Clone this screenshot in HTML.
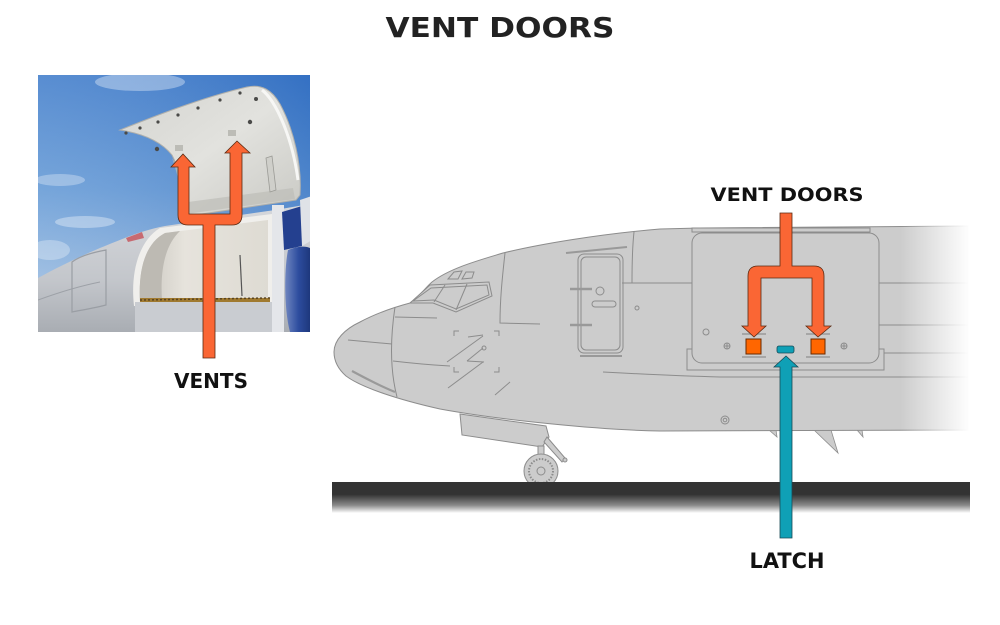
<!DOCTYPE html>
<html>
<head>
<meta charset="utf-8">
<style>
  html,body{margin:0;padding:0;background:#fff;}
  body{width:1000px;height:625px;overflow:hidden;}
  svg{display:block;}
  text{font-family:"DejaVu Sans","Liberation Sans",sans-serif;font-weight:bold;}
</style>
</head>
<body>
<svg width="1000" height="625" viewBox="0 0 1000 625" xmlns="http://www.w3.org/2000/svg">
  <defs>
    <clipPath id="pc"><rect x="38" y="75" width="272" height="257"/></clipPath>
    <linearGradient id="sky" x1="0" y1="0" x2="0" y2="1">
      <stop offset="0" stop-color="#3b79c9"/>
      <stop offset="0.45" stop-color="#5f96d4"/>
      <stop offset="1" stop-color="#adc7e3"/>
    </linearGradient>
    <linearGradient id="skyR" x1="0" y1="0" x2="1" y2="0">
      <stop offset="0" stop-color="#ffffff" stop-opacity="0.15"/>
      <stop offset="1" stop-color="#1f56b0" stop-opacity="0.25"/>
    </linearGradient>
    <linearGradient id="doorG" x1="0" y1="0" x2="1" y2="1">
      <stop offset="0" stop-color="#d4d4d0"/>
      <stop offset="0.5" stop-color="#e2e2de"/>
      <stop offset="1" stop-color="#c9c9c4"/>
    </linearGradient>
    <linearGradient id="fusG" x1="0" y1="0" x2="0" y2="1">
      <stop offset="0" stop-color="#d6d8dc"/>
      <stop offset="0.6" stop-color="#c3c6cb"/>
      <stop offset="1" stop-color="#a9adb3"/>
    </linearGradient>
    <linearGradient id="holdG" x1="0" y1="0" x2="1" y2="0">
      <stop offset="0" stop-color="#c9c6bf"/>
      <stop offset="0.35" stop-color="#e6e3dc"/>
      <stop offset="1" stop-color="#dedbd3"/>
    </linearGradient>
    <linearGradient id="engG" x1="0" y1="0" x2="1" y2="0">
      <stop offset="0" stop-color="#6f86c0"/>
      <stop offset="0.5" stop-color="#2d4c9e"/>
      <stop offset="1" stop-color="#1b3476"/>
    </linearGradient>
    <linearGradient id="fade" x1="0" y1="0" x2="1" y2="0">
      <stop offset="0" stop-color="#ffffff" stop-opacity="0"/>
      <stop offset="1" stop-color="#ffffff" stop-opacity="1"/>
    </linearGradient>
    <linearGradient id="bar" x1="0" y1="0" x2="0" y2="1">
      <stop offset="0" stop-color="#333333"/>
      <stop offset="0.4" stop-color="#333333"/>
      <stop offset="0.75" stop-color="#8a8a8a"/>
      <stop offset="1" stop-color="#ffffff"/>
    </linearGradient>
  </defs>

  <!-- Title -->
  <text x="500" y="37" font-size="28" fill="#222" text-anchor="middle" textLength="229" lengthAdjust="spacingAndGlyphs">VENT DOORS</text>

  <!-- ================= PHOTO ================= -->
  <g clip-path="url(#pc)">
    <rect x="38" y="75" width="272" height="257" fill="url(#sky)"/>
    <rect x="38" y="75" width="272" height="257" fill="url(#skyR)"/>
    <!-- clouds -->
    <ellipse cx="140" cy="82" rx="45" ry="9" fill="#ffffff" opacity="0.35"/>
    <ellipse cx="60" cy="180" rx="25" ry="6" fill="#ffffff" opacity="0.3"/>
    <ellipse cx="85" cy="222" rx="30" ry="6" fill="#ffffff" opacity="0.35"/>
    <ellipse cx="50" cy="250" rx="20" ry="10" fill="#ffffff" opacity="0.3"/>
    <!-- fuselage -->
    <path d="M38,278 C60,266 85,254 105,246 C125,238 140,231 165,226 L275,210 L310,204 L310,332 L38,332 Z" fill="url(#fusG)"/>
    <path d="M38,300 C60,292 80,286 100,282" stroke="#9da1a7" stroke-width="1" fill="none"/>
    <!-- forward panel -->
    <path d="M72,262 C80,256 95,252 106,250 L106,305 C95,308 82,310 72,312 Z" fill="none" stroke="#9a9ea4" stroke-width="1.2"/>
    <!-- red mark -->
    <path d="M126,238 L142,232 L144,238 L128,242 Z" fill="#c65058" opacity="0.8"/>
    <!-- cargo opening frame -->
    <path d="M134,306 C130,270 140,240 160,228 L272,214 L274,304 Z" fill="#f0efec"/>
    <path d="M140,302 C138,268 146,243 165,233 L268,220 L268,298 Z" fill="url(#holdG)"/>
    <path d="M140,302 C138,268 146,243 165,233 L180,231 C165,245 160,270 162,300 Z" fill="#bdbab3"/>
    <line x1="240" y1="255" x2="242" y2="296" stroke="#555" stroke-width="1.2"/>
    <!-- sill -->
    <rect x="140" y="298" width="130" height="4" fill="#a07a30"/>
    <line x1="140" y1="300" x2="270" y2="298" stroke="#5a4420" stroke-width="1.5" stroke-dasharray="2,2"/>
    <rect x="135" y="302" width="140" height="30" fill="#c9ccd1"/>
    <!-- blue tail / engine -->
    <rect x="272" y="205" width="12" height="127" fill="#e4e6ea"/>
    <path d="M282,212 L302,206 L302,246 L284,250 Z" fill="#24408f"/>
    <path d="M288,250 C300,245 310,246 312,250 L312,332 L290,332 C284,310 284,270 288,250 Z" fill="url(#engG)"/>
    <path d="M300,200 L312,196 L312,240 L302,246 Z" fill="#dfe2e7"/>
    <!-- open door -->
    <path d="M120,130 C150,118 200,98 247,87 C262,84 272,90 280,104 C294,130 302,165 300,195 L296,200 L188,216 C184,195 180,170 172,155 C160,140 140,133 120,130 Z" fill="url(#doorG)" stroke="#b0b0ac" stroke-width="1"/>
    <path d="M262,90 C275,100 292,135 298,180" stroke="#f7f7f5" stroke-width="3" fill="none"/>
    <path d="M172,158 C178,175 182,195 186,214 L295,199 L293,188 L188,202 C184,185 180,170 172,158 Z" fill="#bdbdb8" opacity="0.7"/>
    <!-- bolts along top edge -->
    <g fill="#4a4a48">
      <circle cx="126" cy="133" r="1.6"/><circle cx="140" cy="128" r="1.6"/>
      <circle cx="158" cy="122" r="1.6"/><circle cx="178" cy="115" r="1.6"/>
      <circle cx="198" cy="108" r="1.6"/><circle cx="220" cy="100" r="1.6"/>
      <circle cx="240" cy="93" r="1.6"/><circle cx="256" cy="99" r="2"/>
      <circle cx="157" cy="149" r="2.2"/><circle cx="250" cy="122" r="2.2"/>
    </g>
    <rect x="175" y="145" width="8" height="6" fill="#bcbcb6"/>
    <rect x="228" y="130" width="8" height="6" fill="#bcbcb6"/>
    <!-- hinge -->
    <path d="M266,158 L272,156 L276,190 L270,192 Z" fill="#cfcfca" stroke="#9a9a95" stroke-width="0.8"/>
  </g>

  <!-- photo arrow -->
  <path d="M203,358 L203,225 L188,225 Q178,225 178,215 L178,167 L171,167 L183,154 L195,167 L189,167 L189,214 L230,214 L230,153 L225,153 L237,141 L250,153 L242,153 L242,215 Q242,225 232,225 L215,225 L215,358 Z" fill="#fa6634" stroke="#5a2a12" stroke-width="0.8"/>
  <text x="211" y="388" font-size="20" fill="#111" text-anchor="middle" textLength="74" lengthAdjust="spacingAndGlyphs">VENTS</text>

  <!-- ================= AIRCRAFT ================= -->
  <!-- nose gear fairing & gear -->
  <path d="M460,414 L546,426 L549,437 L542,447 L462,435 Z" fill="#cccccc" stroke="#8c8c8c" stroke-width="1"/>
  <rect x="538" y="446" width="6" height="10" fill="#cccccc" stroke="#8c8c8c" stroke-width="1"/>
  <path d="M547,437 L565,458 L562,462 L544,442 Z" fill="#cccccc" stroke="#8c8c8c" stroke-width="1"/>
  <circle cx="565" cy="460" r="2" fill="#ccc" stroke="#8c8c8c"/>
  <circle cx="541" cy="471" r="17" fill="#cccccc" stroke="#8c8c8c" stroke-width="1"/>
  <circle cx="541" cy="471" r="12" fill="none" stroke="#8c8c8c" stroke-width="2" stroke-dasharray="1.5,1.5"/>
  <circle cx="541" cy="471" r="4" fill="none" stroke="#8c8c8c" stroke-width="1"/>

  <!-- antennas / fins below -->
  <path d="M769,430 L777,437 L776,430 Z" fill="#ccc" stroke="#8c8c8c" stroke-width="0.8"/>
  <path d="M814,430 L838,453 L831,430 Z" fill="#ccc" stroke="#8c8c8c" stroke-width="0.8"/>
  <path d="M857,430 L863,437 L862,430 Z" fill="#ccc" stroke="#8c8c8c" stroke-width="0.8"/>

  <!-- fuselage -->
  <path d="M334,352 C334,340 345,329 360,322 C375,314 395,307 410,303 C420,296 425,288 432,282 C450,268 480,260 503,253 C540,244 600,234 660,229 L700,228 L968,226 L968,430 L660,431 C600,430 500,420 440,409 C400,400 362,388 346,376 C337,368 334,360 334,352 Z" fill="#cccccc" stroke="#8c8c8c" stroke-width="1"/>

  <g stroke="#8c8c8c" stroke-width="1" fill="none">
    <!-- radome lines -->
    <path d="M395,307 C390,340 390,370 397,397"/>
    <path d="M348,340 L392,344"/>
    <path d="M395,317 L437,318"/>
    <path d="M393,361 C410,363 430,365 450,366"/>
    <path d="M352,371 C365,378 380,386 395,392" stroke-width="2.2" stroke="#9a9a9a"/>
    <!-- windshield -->
    <path d="M410,303 L430,285 L489,282 L492,296 L456,312 L433,303 Z" fill="#cccccc"/>
    <path d="M413,301 L431,288 L487,285 L489,295 L456,309 L434,300 Z"/>
    <line x1="445" y1="285" x2="434" y2="302"/>
    <line x1="467" y1="284" x2="456" y2="310"/>
    <!-- eyebrow windows -->
    <path d="M448,279 L454,272 L462,271 L458,279 Z"/>
    <path d="M462,279 L466,272 L474,272 L472,278 Z"/>
    <!-- vertical & horizontal structural lines -->
    <path d="M505,253 C502,280 500,300 500,323 L540,324"/>
    <path d="M634,232 C632,250 632,268 632,283"/>
    <line x1="622" y1="283" x2="692" y2="283"/>
    <line x1="879" y1="283" x2="968" y2="283"/>
    <line x1="879" y1="325" x2="968" y2="325"/>
    <line x1="884" y1="353" x2="968" y2="353"/>
    <path d="M603,372 C640,374 680,376 720,377 L968,377"/>
    <!-- brackets & probes -->
    <path d="M454,336 L454,331 L459,331"/>
    <path d="M494,331 L499,331 L499,336"/>
    <path d="M454,367 L454,372 L459,372"/>
    <path d="M499,367 L499,372 L494,372"/>
    <path d="M447,362 L483,336"/>
    <path d="M468,337 L483,335"/>
    <path d="M467,361 L483,348"/>
    <circle cx="484" cy="348" r="2"/>
    <path d="M448,388 L483,362"/>
    <path d="M467,361 L484,362"/>
    <path d="M495,395 L510,382"/>
    <!-- forward entry door -->
    <path d="M566,253 L627,247"  stroke-width="2" stroke="#999"/>
    <rect x="578" y="254" width="45" height="99" rx="6"/>
    <rect x="581" y="257" width="39" height="93" rx="5"/>
    <line x1="570" y1="289" x2="592" y2="289" stroke-width="2.5" stroke="#999"/>
    <line x1="570" y1="325" x2="592" y2="325" stroke-width="2.5" stroke="#999"/>
    <circle cx="600" cy="291" r="4"/>
    <rect x="592" y="301" width="24" height="6" rx="3"/>
    <line x1="580" y1="356" x2="622" y2="356" stroke-width="2" stroke="#999"/>
    <circle cx="637" cy="308" r="2"/>
    <!-- drain mast -->
    <circle cx="725" cy="420" r="4"/>
    <circle cx="725" cy="420" r="1.8"/>
    <!-- vent door panel -->
    <rect x="687" y="349" width="197" height="21" fill="#cccccc"/>
    <rect x="692" y="233" width="187" height="130" rx="10" fill="#cccccc"/>
    <rect x="692" y="228" width="178" height="4" fill="#cccccc"/>
    <circle cx="706" cy="332" r="3"/>
    <circle cx="727" cy="346" r="3"/>
    <line x1="724.5" y1="346" x2="729.5" y2="346"/>
    <line x1="727" y1="343.5" x2="727" y2="348.5"/>
    <circle cx="844" cy="346" r="3"/>
    <line x1="841.5" y1="346" x2="846.5" y2="346"/>
    <line x1="844" y1="343.5" x2="844" y2="348.5"/>
  </g>
  <!-- vent / rails -->
  <g stroke="#9a9a9a" stroke-width="1.5">
    <line x1="742" y1="334" x2="766" y2="334"/>
    <line x1="742" y1="357" x2="766" y2="357"/>
    <line x1="806" y1="334" x2="830" y2="334"/>
    <line x1="806" y1="357" x2="830" y2="357"/>
  </g>
  <rect x="746" y="339" width="15" height="15" fill="#ff6600" stroke="#6a2a00" stroke-width="1"/>
  <rect x="811" y="339" width="14" height="15" fill="#ff6600" stroke="#6a2a00" stroke-width="1"/>
  <rect x="777" y="346" width="17" height="7" rx="2" fill="#0fa0b6" stroke="#1a4a55" stroke-width="0.8"/>

  <!-- fade out right side -->
  <rect x="900" y="215" width="70" height="225" fill="url(#fade)"/>
  <rect x="969" y="215" width="31" height="225" fill="#ffffff"/>

  <!-- ground bar -->
  <rect x="332" y="482" width="638" height="31" fill="url(#bar)"/>

  <!-- vent doors arrow -->
  <path d="M780,213 L792,213 L792,266 L814,266 Q824,266 824,276 L824,326 L831,326 L818,337 L806,326 L812,326 L812,278 L761,278 L761,326 L766,326 L754,337 L742,326 L748,326 L748,276 Q748,266 758,266 L780,266 Z" fill="#fa6634" stroke="#5a2a12" stroke-width="0.8"/>
  <text x="787" y="201" font-size="19" fill="#111" text-anchor="middle" textLength="153" lengthAdjust="spacingAndGlyphs">VENT DOORS</text>

  <!-- latch arrow -->
  <path d="M780,538 L780,367 L774,367 L786,356 L798,367 L792,367 L792,538 Z" fill="#0fa0b6" stroke="#1a4a55" stroke-width="0.8"/>
  <text x="787" y="568" font-size="21" fill="#111" text-anchor="middle" textLength="75" lengthAdjust="spacingAndGlyphs">LATCH</text>
</svg>
</body>
</html>
